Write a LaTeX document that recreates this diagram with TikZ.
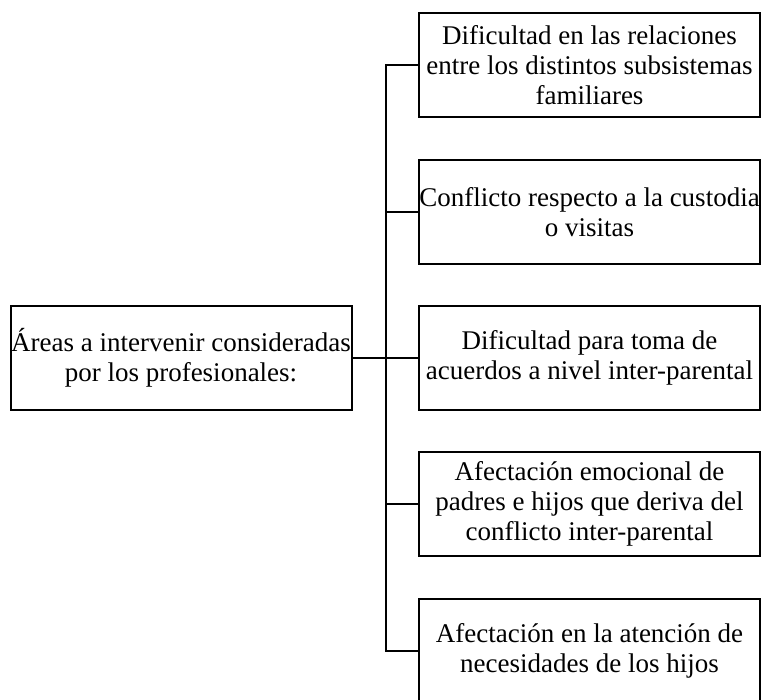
\documentclass[tikz,border=0pt]{standalone}
\usepackage{fontspec}
\setmainfont{Liberation Serif}
\begin{document}
\begin{tikzpicture}[x=1pt,y=-1pt,
  box/.style={draw,line width=2pt,minimum width=341pt,minimum height=104pt,align=center,inner sep=0pt,font=\fontsize{27}{30}\selectfont},
  conn/.style={line width=2pt}]
\useasboundingbox (0,0) rectangle (761,700);
\node[box,minimum width=341pt] (root) at (181,358) {Áreas a intervenir consideradas\\por los profesionales:};
\node[box] (a) at (589.5,65) {Dificultad en las relaciones\\entre los distintos subsistemas\\familiares};
\node[box] (b) at (589.5,212) {Conflicto respecto a la custodia\\o visitas};
\node[box] (c) at (589.5,358) {Dificultad para toma de\\acuerdos a nivel inter-parental};
\node[box] (d) at (589.5,504) {Afectación emocional de\\padres e hijos que deriva del\\conflicto inter-parental};
\node[box] (e) at (589.5,651) {Afectación en la atención de\\necesidades de los hijos};
\coordinate (t) at (386,358);
\draw[conn] (a.west) -| (t) |- (e.west);
\draw[conn] (root.east) -- (c.west);
\draw[conn] (t |- b.west) -- (b.west);
\draw[conn] (t |- d.west) -- (d.west);
\end{tikzpicture}
\end{document}
